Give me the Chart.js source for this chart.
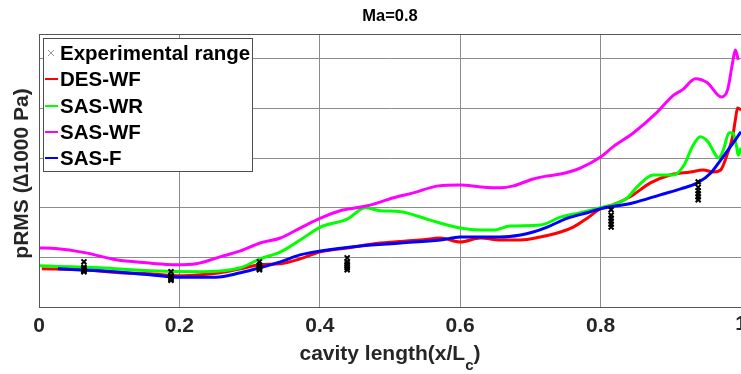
<!DOCTYPE html>
<html>
<head>
<meta charset="utf-8">
<script src="https://cdn.jsdelivr.net/npm/chart.js@4.4.1/dist/chart.umd.min.js"></script>
<style>
  html, body { margin: 0; padding: 0; background: #fff; }
  #chart { display: block; }
</style>
</head>
<body>
<canvas id="chart" width="741" height="374"></canvas>
<script>
// pRMS along the cavity floor, Ma = 0.8
const desWfX = [0.004, 0.063, 0.115, 0.158, 0.201, 0.230, 0.258, 0.287, 0.315, 0.344, 0.372, 0.401, 0.439, 0.486, 0.543, 0.572, 0.600, 0.629, 0.657, 0.686, 0.714, 0.743, 0.761, 0.781, 0.800, 0.818, 0.842, 0.871, 0.899, 0.928, 0.946, 0.961, 0.971, 0.981, 0.988, 0.992, 0.995, 1.0];
const desWfY = [0.77, 0.75, 0.69, 0.67, 0.63, 0.65, 0.69, 0.77, 0.85, 0.87, 0.97, 1.11, 1.19, 1.29, 1.35, 1.39, 1.31, 1.39, 1.35, 1.35, 1.41, 1.51, 1.61, 1.79, 1.98, 2.06, 2.22, 2.50, 2.66, 2.72, 2.76, 2.72, 2.76, 3.10, 3.43, 3.77, 4.01, 3.97];

const sasWrX = [0, 0.087, 0.158, 0.230, 0.287, 0.315, 0.344, 0.372, 0.401, 0.439, 0.465, 0.486, 0.515, 0.557, 0.600, 0.629, 0.647, 0.671, 0.714, 0.743, 0.771, 0.800, 0.818, 0.838, 0.852, 0.875, 0.904, 0.919, 0.930, 0.942, 0.954, 0.961, 0.968, 0.975, 0.983, 0.988, 0.994, 0.996, 1.0];
const sasWrY = [0.83, 0.79, 0.73, 0.71, 0.79, 0.97, 1.11, 1.35, 1.61, 1.77, 2.00, 1.94, 1.92, 1.75, 1.59, 1.55, 1.55, 1.63, 1.65, 1.81, 1.90, 2.00, 2.06, 2.20, 2.42, 2.66, 2.66, 2.86, 3.21, 3.43, 3.31, 3.13, 3.00, 3.17, 3.51, 3.51, 3.21, 3.06, 3.21];

const sasWfX = [0, 0.024, 0.067, 0.110, 0.153, 0.195, 0.224, 0.258, 0.287, 0.315, 0.344, 0.372, 0.401, 0.429, 0.468, 0.505, 0.533, 0.569, 0.600, 0.629, 0.657, 0.676, 0.704, 0.724, 0.743, 0.771, 0.800, 0.818, 0.847, 0.878, 0.904, 0.917, 0.935, 0.952, 0.972, 0.981, 0.988, 0.992, 0.996];
const sasWfY = [1.19, 1.18, 1.09, 0.95, 0.89, 0.85, 0.87, 1.01, 1.13, 1.29, 1.39, 1.59, 1.79, 1.94, 2.04, 2.20, 2.30, 2.44, 2.46, 2.42, 2.40, 2.44, 2.58, 2.64, 2.68, 2.80, 3.02, 3.23, 3.51, 3.89, 4.27, 4.38, 4.60, 4.52, 4.23, 4.38, 4.92, 5.18, 4.98];

const sasFX = [0.027, 0.087, 0.158, 0.201, 0.252, 0.287, 0.315, 0.344, 0.372, 0.401, 0.458, 0.515, 0.572, 0.600, 0.629, 0.657, 0.686, 0.704, 0.724, 0.753, 0.781, 0.800, 0.847, 0.885, 0.914, 0.938, 0.957, 0.971, 0.985, 0.995, 1.0];
const sasFY = [0.77, 0.73, 0.65, 0.60, 0.60, 0.69, 0.79, 0.91, 1.05, 1.13, 1.23, 1.29, 1.35, 1.41, 1.41, 1.41, 1.45, 1.51, 1.61, 1.79, 1.90, 1.98, 2.10, 2.26, 2.38, 2.50, 2.70, 2.96, 3.23, 3.43, 3.53];

// experimental stations and the readings stacked at each one
const expStations = [0.064, 0.188, 0.314, 0.439, 0.815, 0.939];
const expReadings = [
  [0.91, 0.80, 0.77, 0.75, 0.73, 0.71],
  [0.71, 0.62, 0.60, 0.58, 0.56, 0.54],
  [0.91, 0.84, 0.81, 0.79, 0.77, 0.75],
  [0.99, 0.91, 0.87, 0.83, 0.79, 0.75],
  [1.96, 1.85, 1.79, 1.73, 1.67, 1.61],
  [2.52, 2.41, 2.34, 2.28, 2.22, 2.16],
];

const xTicks = [0, 0.2, 0.4, 0.6, 0.8, 1];
const titleText = "Ma=0.8";
const yTitle = "pRMS (\u22061000 Pa)";
const FONT = "'Liberation Sans', Arial, sans-serif";
const TEXT = "#262626";

const toPoints = (xs, ys) => xs.map((x, i) => ({ x: x, y: ys[i] }));

const expPoints = [];
expStations.forEach((x, i) => {
  expReadings[i].forEach((y) => expPoints.push({ x: x, y: y }));
});

const series = [
  { label: "DES-WF", color: "#ff0000", data: toPoints(desWfX, desWfY), order: 4 },
  { label: "SAS-WR", color: "#00ff00", data: toPoints(sasWrX, sasWrY), order: 3 },
  { label: "SAS-WF", color: "#ff00ff", data: toPoints(sasWfX, sasWfY), order: 2 },
  { label: "SAS-F", color: "#0000ff", data: toPoints(sasFX, sasFY), order: 1 },
];

const datasets = [
  {
    label: "Experimental range",
    type: "scatter",
    data: expPoints,
    pointStyle: "crossRot",
    pointRadius: 3.5,
    pointBorderWidth: 2,
    borderColor: "#000",
    backgroundColor: "#000",
    order: 0,
  },
].concat(
  series.map((s) => ({
    label: s.label,
    type: "line",
    data: s.data,
    borderColor: s.color,
    backgroundColor: s.color,
    borderWidth: 3,
    pointRadius: 0,
    cubicInterpolationMode: "monotone",
    fill: false,
    order: s.order,
  }))
);

// title, axis titles, plot box, the clipped "1" tick and the boxed legend
const decorations = {
  id: "decorations",
  afterDraw(chart) {
    const { ctx, chartArea: a } = chart;
    const xScale = chart.scales.x;
    const midX = (a.left + a.right) / 2;
    ctx.save();
    ctx.strokeStyle = "#555";
    ctx.lineWidth = 1;
    ctx.strokeRect(a.left + 0.5, a.top + 0.5, a.right - a.left, a.bottom - a.top);

    // title over the plot area
    ctx.fillStyle = "#000";
    ctx.font = "bold 16.5px " + FONT;
    ctx.textAlign = "center";
    ctx.textBaseline = "middle";
    ctx.fillText(titleText, midX, 16);

    // last x tick sits on the canvas edge
    ctx.fillStyle = TEXT;
    ctx.font = "bold 21px " + FONT;
    ctx.textBaseline = "top";
    ctx.fillText("1", xScale.getPixelForValue(1), a.bottom + 7);

    // y title
    ctx.save();
    ctx.font = "bold 21px " + FONT;
    ctx.translate(22, (a.top + a.bottom) / 2 + 3);
    ctx.rotate(-Math.PI / 2);
    ctx.textAlign = "center";
    ctx.textBaseline = "middle";
    ctx.fillText(yTitle, 0, 0);
    ctx.restore();

    // x title with subscript c
    const main = "cavity length(x/L";
    const sub = "c";
    const tail = ")";
    ctx.textBaseline = "alphabetic";
    ctx.textAlign = "left";
    ctx.font = "bold 21px " + FONT;
    const wMain = ctx.measureText(main).width;
    const wTail = ctx.measureText(tail).width;
    ctx.font = "bold 15px " + FONT;
    const wSub = ctx.measureText(sub).width;
    let x = midX - (wMain + wSub + wTail) / 2;
    ctx.font = "bold 21px " + FONT;
    ctx.fillText(main, x, 360);
    x += wMain;
    ctx.font = "bold 15px " + FONT;
    ctx.fillText(sub, x, 370);
    x += wSub;
    ctx.font = "bold 21px " + FONT;
    ctx.fillText(tail, x, 360);

    // legend box
    const box = { x: 43.5, y: 38.5, w: 209, h: 133 };
    ctx.fillStyle = "#fff";
    ctx.fillRect(box.x, box.y, box.w, box.h);
    ctx.strokeStyle = "#4d4d4d";
    ctx.strokeRect(box.x, box.y, box.w, box.h);

    const rows = [53, 79, 106, 132, 158];
    ctx.font = "bold 20.5px " + FONT;
    ctx.textBaseline = "middle";
    chart.data.datasets.forEach((ds, i) => {
      const y = rows[i];
      if (ds.type === "scatter") {
        ctx.strokeStyle = "#999";
        ctx.lineWidth = 1;
        ctx.beginPath();
        ctx.moveTo(48, y - 3);
        ctx.lineTo(54, y + 3);
        ctx.moveTo(54, y - 3);
        ctx.lineTo(48, y + 3);
        ctx.stroke();
      } else {
        ctx.strokeStyle = ds.borderColor;
        ctx.lineWidth = 2;
        ctx.beginPath();
        ctx.moveTo(45, y);
        ctx.lineTo(58, y);
        ctx.stroke();
      }
      ctx.fillStyle = "#000";
      ctx.fillText(ds.label, 60, y + 1);
    });
    ctx.restore();
  },
};

new Chart(document.getElementById("chart"), {
  data: { datasets: datasets },
  options: {
    responsive: false,
    animation: false,
    layout: { padding: { top: 34, left: 0, right: 0, bottom: 0 }, autoPadding: false },
    plugins: {
      legend: { display: false },
      tooltip: { enabled: false },
      title: { display: false },
    },
    scales: {
      x: {
        type: "linear",
        min: 0,
        max: 1,
        afterBuildTicks: (scale) => {
          scale.ticks = xTicks.map((v) => ({ value: v }));
        },
        afterFit: (scale) => {
          scale.height = 67;
          scale.paddingLeft = 0;
          scale.paddingRight = 0;
        },
        ticks: {
          padding: 0,
          maxRotation: 0,
          autoSkip: false,
          color: TEXT,
          font: { family: FONT, size: 21, weight: "bold" },
          // the "1" is drawn by the plugin so it does not pad the plot
          callback: (v) => (v === 1 ? "" : String(v)),
        },
        grid: { color: "#8c8c8c", drawTicks: true, tickLength: 7, tickColor: "rgba(0,0,0,0)" },
        border: { color: "#555" },
      },
      y: {
        type: "linear",
        min: 0,
        max: 5.5,
        afterFit: (scale) => {
          scale.width = 39;
        },
        ticks: { display: false, stepSize: 1 },
        grid: { color: "#8c8c8c", drawTicks: false },
        border: { color: "#555" },
      },
    },
  },
  plugins: [decorations],
});
</script>
</body>
</html>
